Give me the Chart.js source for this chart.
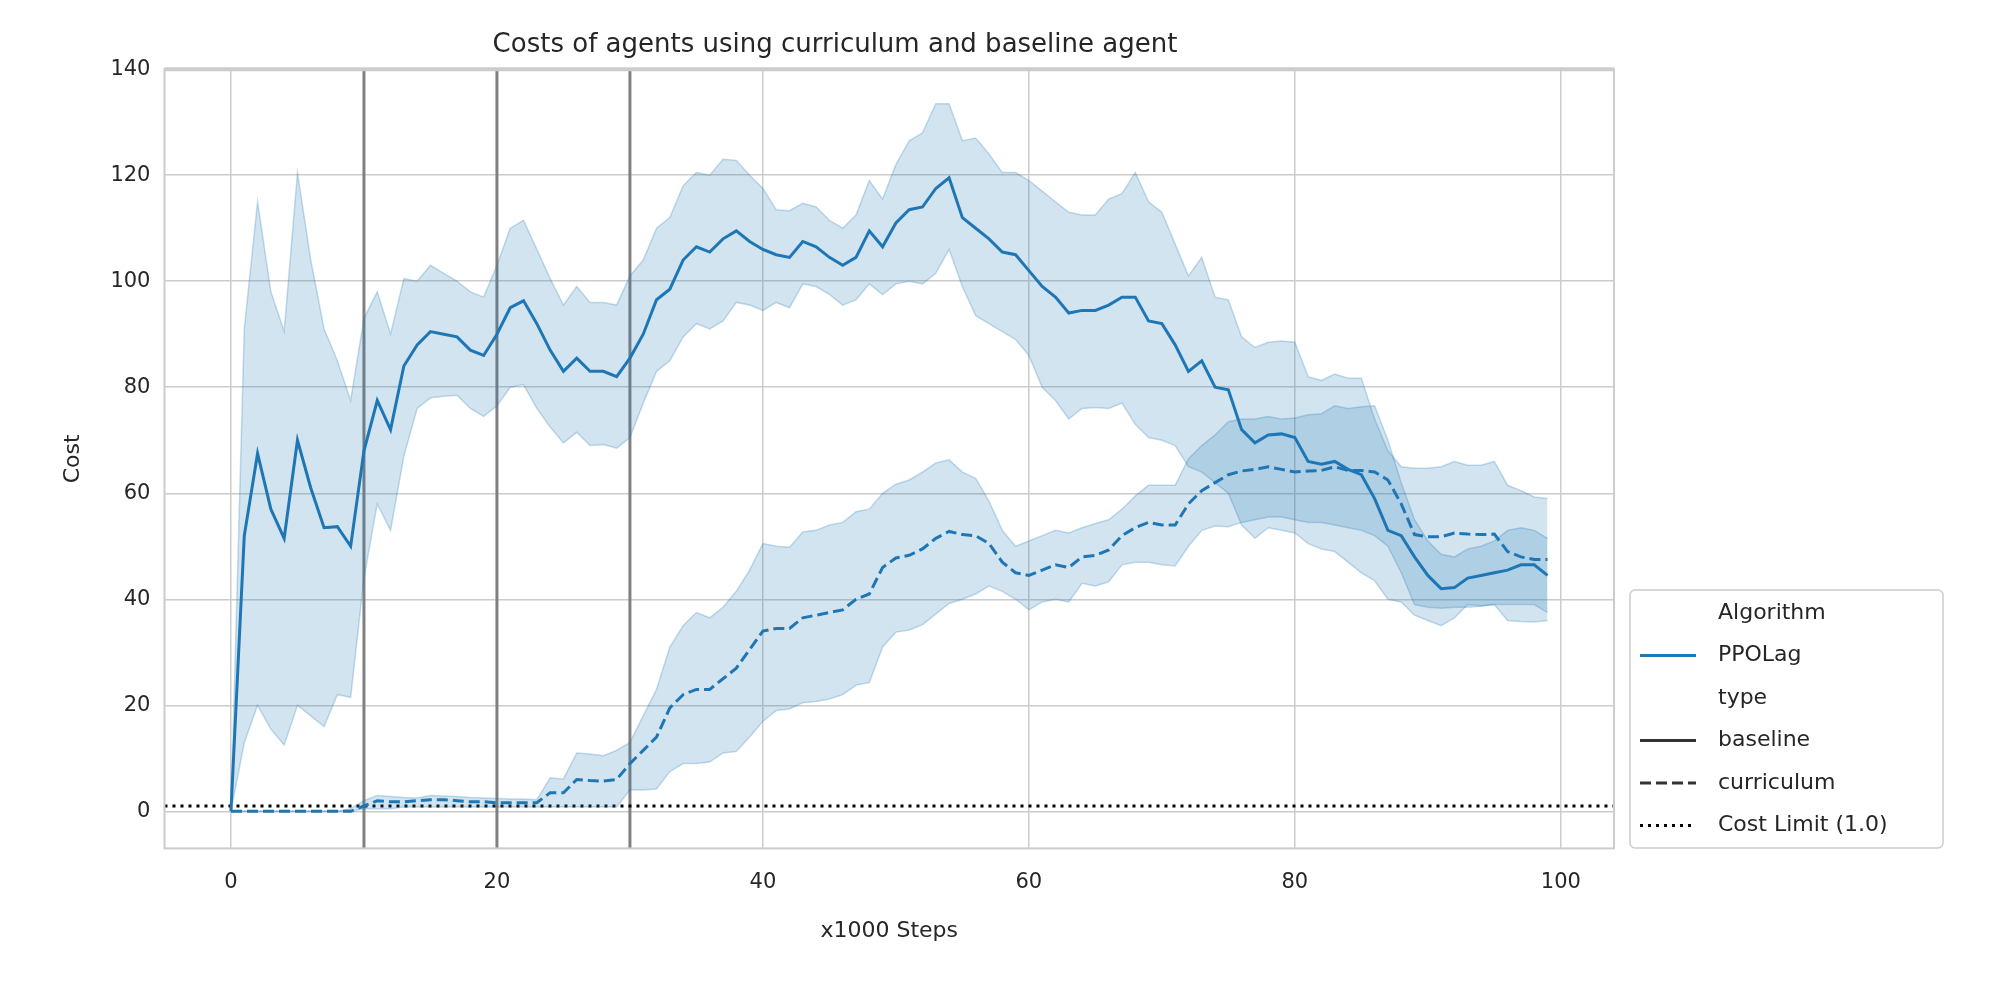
<!DOCTYPE html>
<html>
<head>
<meta charset="utf-8">
<script src="https://cdn.jsdelivr.net/npm/chart.js@4/dist/chart.umd.min.js"></script>
<style>
  body { margin: 0; background: #fff; }
  #wrap { width: 2000px; height: 1000px; }
</style>
</head>
<body>
<div id="wrap"><canvas id="costChart" width="2000" height="1000"></canvas></div>
<script>
// ================= DATA =================
const steps = Array.from({ length: 100 }, (_, i) => i);

const baselineMean = [0,52,67.5,57,51.5,70,61,53.5,53.7,50,68,77.5,72,84,88,90.5,90,89.5,87,86,90,95,96.3,92,87,83,85.5,83,83,82,85.5,90,96.5,98.5,104,106.5,105.5,108,109.5,107.5,106,105,104.5,107.5,106.5,104.5,103,104.5,109.5,106.5,111,113.5,114,117.5,119.5,112,110,108,105.5,105,102,99,97,94,94.5,94.5,95.5,97,97,92.5,92,88,83,85,80,79.5,72,69.5,71,71.2,70.5,66,65.5,66,64.5,63.5,59,53,52,48,44.5,42,42.2,44,44.5,45,45.5,46.5,46.5,44.5];
const baselineUpper = [0,91,115,98,90.5,120.5,104,91,85,77.5,93,98,90,100.5,100,103,101.5,100,98,97,103,110,111.5,106,100.5,95.5,99,96,96,95.5,101,104,110,112,118,120.5,120,123,122.8,120,117.5,113.5,113.3,114.7,114,111.5,110,112.5,119,115.5,122,126.5,128,133.5,133.5,126.5,127,124,120.5,120.5,119,117,115,113,112.5,112.5,115.5,116.5,120.5,115,113,107,101,104.5,97,96.5,89.5,87.5,88.5,88.7,88.5,82,81.3,82.5,81.7,81.7,74,68,65,64.7,64.7,65,66,65.3,65.3,66,61.5,60.5,59.3,59];
const baselineLower = [0,13,20,15.5,12.5,20,18,16,22,21.5,44,58,53,67,76,78,78.3,78.5,76,74.5,76.5,80,80.5,76,72.5,69.5,71.5,69,69.2,68.5,70.5,77,83,85,89.5,92,91,92.5,96,95.5,94.5,96,95,99.5,99,97.5,95.5,96.5,99.5,97.5,99.5,100,99.5,101.5,106,99,93.5,92,90.5,89,86,80,77.5,74,76,76.2,76,77,73,70.5,70,69,65,64,62,60,54,51.5,53.5,53,52.5,50.5,49.5,49,47,45,43.5,40,39.5,37,36,35,36.5,39,38.8,39,36,35.8,35.7,36];

const curriculumMean = [0,0,0,0,0,0,0,0,0,0,1,2,1.8,1.8,2,2.2,2.2,2,1.8,1.8,1.6,1.6,1.6,1.6,3.5,3.5,6,5.8,5.7,6,9,11.5,14,19.5,22,23,23,25,27,30.5,34,34.5,34.5,36.5,37,37.5,38,40,41,46,47.8,48.3,49.5,51.5,52.8,52.2,52,50.5,47,45,44.5,45.5,46.5,46,48,48.3,49.3,52,53.5,54.5,54,54,58,60.5,62,63.5,64.2,64.5,65,64.5,64,64.2,64.3,65,64.3,64.3,64,62.5,58,52.2,51.8,51.8,52.5,52.3,52.2,52.3,49,48,47.5,47.5];
const curriculumUpper = [0,0,0,0,0,0,0,0,0,0.5,2,3,2.8,2.6,2.5,3,2.9,2.8,2.6,2.5,2.4,2.3,2.3,2.2,6.3,6.1,11,10.8,10.5,11.5,13,18,23,31,35,37.5,36.5,38.5,41.5,45.5,50.5,50,49.8,52.7,53,54,54.5,56.5,57,60,61.7,62.5,64,65.7,66.3,64,62.8,58.5,53,50,51,52,53,52.5,53.5,54.3,55,57,59.5,61.5,61.5,61.5,66.5,69,71,73.5,74,74,74.5,74,74.2,74.8,75,76.5,76,76.3,76.5,70,62,55,51,48.5,48,49.5,50,51,53,53.5,53,51.5];
const curriculumLower = [0,0,0,0,0,0,0,0,0,0,0.5,0.5,0.5,0.8,0.8,0.8,0.8,0.8,0.8,0.8,0.8,0.8,0.8,0.8,0.8,0.8,0.8,0.8,0.8,0.8,4,4,4.2,7.5,9,9,9.3,11,11.3,14,17,19,19.3,20.5,20.7,21.2,22,23.8,24.3,31,33.8,34.2,35.2,37.2,39.2,40,41,42.5,41.5,40,38,39.5,40,39.5,43,42.5,43.3,46.5,47,47,46.5,46.3,50,53,53.8,53.7,54.5,55,55.5,55.5,55,54.5,54.5,54,53.5,53,52,50,45,39,38.5,38.3,38.5,38.5,38.7,39,39,39,39,37.5];

const curriculumSwitches = [10, 20, 30];
const costLimit = 1.0;
const xTicks = [0, 20, 40, 60, 80, 100];
const yTicks = [0, 20, 40, 60, 80, 100, 120, 140];

// ================= HELPER =================
const BLUE = '#1f77b4';
const BAND = 'rgba(31,119,180,0.2)';
const FONT = "'DejaVu Sans', sans-serif";

function toPoints(values) {
    return values.map((v, i) => ({ x: steps[i], y: v }));
}

function bandPair(upper, lower) {
    return [
        { data: toPoints(upper), borderColor: 'rgba(31,119,180,0.25)', borderWidth: 1.5, backgroundColor: BAND, fill: '+1', pointRadius: 0, tension: 0 },
        { data: toPoints(lower), borderColor: 'rgba(31,119,180,0.25)', borderWidth: 1.5, backgroundColor: BAND, fill: false, pointRadius: 0, tension: 0 }
    ];
}

const datasets = [
    ...bandPair(baselineUpper, baselineLower),
    ...bandPair(curriculumUpper, curriculumLower),
    { data: toPoints(baselineMean), borderColor: BLUE, borderWidth: 3, pointRadius: 0, fill: false, tension: 0 },
    { data: toPoints(curriculumMean), borderColor: BLUE, borderWidth: 3, borderDash: [11, 5], pointRadius: 0, fill: false, tension: 0 },
    { data: [{ x: -5, y: costLimit }, { x: 104, y: costLimit }], borderColor: '#000', borderWidth: 3, borderDash: [3, 5], pointRadius: 0, fill: false }
];
curriculumSwitches.forEach(s => {
    datasets.push({ data: [{ x: s, y: -7 }, { x: s, y: 140 }], borderColor: '#808080', borderWidth: 3, pointRadius: 0, fill: false });
});

// ================= LEGEND =================
const legendPlugin = {
    id: 'seabornLegend',
    afterDraw(chart) {
        const ctx = chart.ctx;
        ctx.save();
        ctx.fillStyle = '#fff';
        ctx.strokeStyle = '#cccccc';
        ctx.lineWidth = 1.5;
        ctx.beginPath();
        ctx.roundRect(1630, 590, 313, 258, 5);
        ctx.fill();
        ctx.stroke();

        const rows = [
            { text: 'Algorithm' },
            { text: 'PPOLag', color: BLUE, dash: [] },
            { text: 'type' },
            { text: 'baseline', color: '#333', dash: [] },
            { text: 'curriculum', color: '#333', dash: [11, 5] },
            { text: 'Cost Limit (1.0)', color: '#000', dash: [3, 5] }
        ];
        ctx.font = '22px ' + FONT;
        ctx.textBaseline = 'middle';
        rows.forEach((r, i) => {
            const y = 613 + i * 42.5;
            if (r.color) {
                ctx.strokeStyle = r.color;
                ctx.lineWidth = 3;
                ctx.setLineDash(r.dash);
                ctx.beginPath();
                ctx.moveTo(1640, y);
                ctx.lineTo(1696, y);
                ctx.stroke();
                ctx.setLineDash([]);
            }
            ctx.fillStyle = '#262626';
            ctx.fillText(r.text, 1718, y);
        });
        ctx.restore();
    }
};

// top spine in seaborn whitegrid is drawn as a thicker light line
const framePlugin = {
    id: 'frame',
    afterDraw(chart) {
        const { ctx, chartArea: { left, right, top, bottom } } = chart;
        ctx.save();
        ctx.strokeStyle = '#cccccc';
        ctx.lineWidth = 2;
        ctx.strokeRect(left, top, right - left, bottom - top);
        ctx.lineWidth = 4;
        ctx.beginPath();
        ctx.moveTo(left, top);
        ctx.lineTo(right, top);
        ctx.stroke();
        ctx.restore();
    }
};

// ================= CHART =================
new Chart(document.getElementById('costChart'), {
    type: 'line',
    data: { datasets },
    plugins: [framePlugin, legendPlugin],
    options: {
        responsive: false,
        animation: false,
        layout: { padding: { left: 56, right: 386, top: 14, bottom: 52 } },
        plugins: {
            legend: { display: false },
            tooltip: { enabled: false },
            title: {
                display: true,
                text: 'Costs of agents using curriculum and baseline agent',
                color: '#262626',
                font: { family: FONT, size: 26, weight: 'normal' },
                padding: { top: 16, bottom: 8 }
            }
        },
        scales: {
            x: {
                type: 'linear',
                min: -5, max: 104,
                afterBuildTicks: axis => { axis.ticks = xTicks.map(v => ({ value: v })); },
                grid: { color: '#cccccc', lineWidth: 1.5, drawTicks: false },
                border: { display: false },
                ticks: { color: '#262626', font: { family: FONT, size: 21 }, padding: 22 },
                title: { display: true, text: 'x1000 Steps', color: '#262626', font: { family: FONT, size: 22 }, padding: { top: 0 } }
            },
            y: {
                min: -7, max: 140,
                afterBuildTicks: axis => { axis.ticks = yTicks.map(v => ({ value: v })); },
                grid: { color: '#cccccc', lineWidth: 1.5, drawTicks: false },
                border: { display: false },
                ticks: { color: '#262626', font: { family: FONT, size: 21 }, padding: 14 },
                title: { display: true, text: 'Cost', color: '#262626', font: { family: FONT, size: 22 }, padding: { bottom: 10 } }
            }
        }
    }
});
</script>
</body>
</html>
